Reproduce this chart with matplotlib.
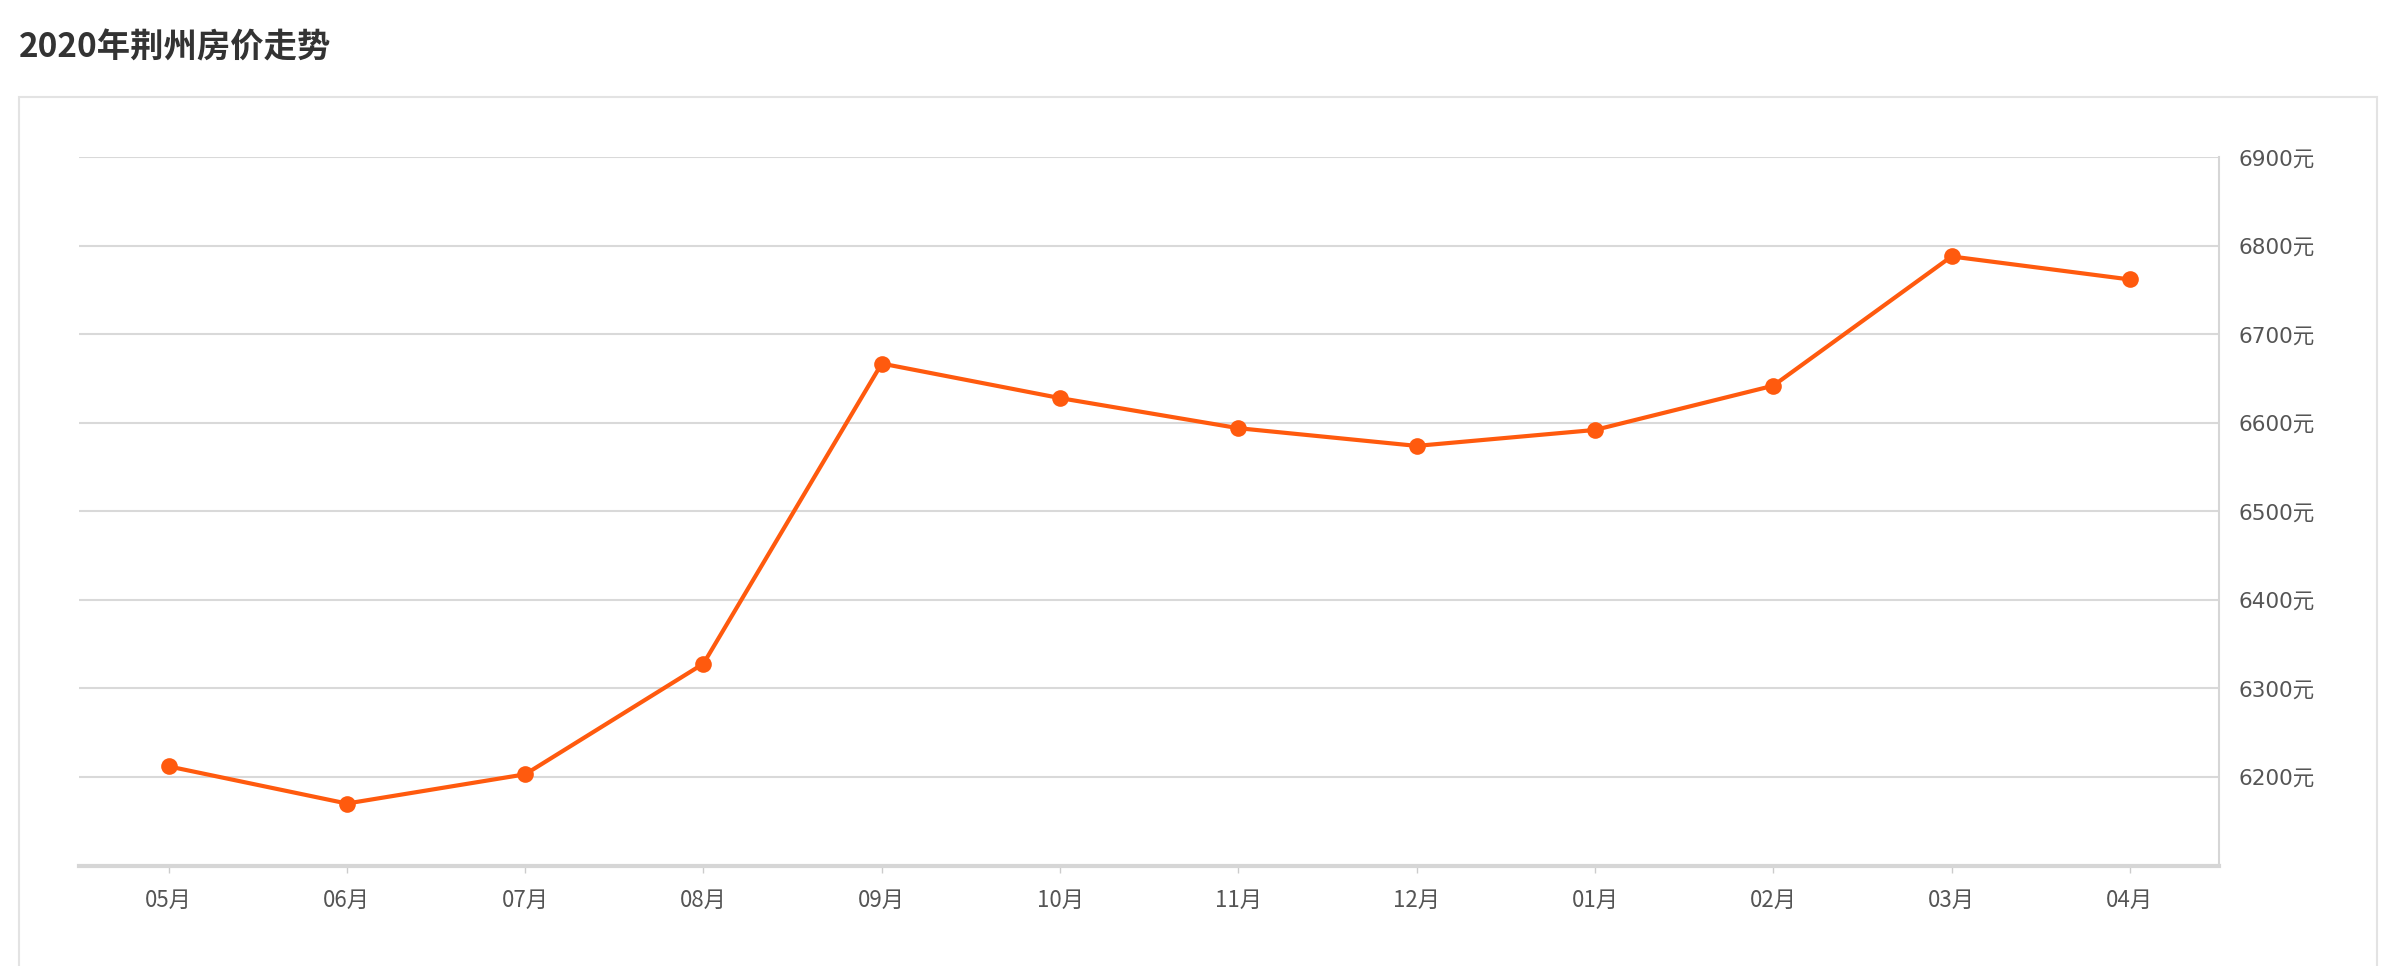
import matplotlib
matplotlib.use("Agg")
import matplotlib.pyplot as plt
from matplotlib.patches import Rectangle

plt.rcParams['font.family'] = ['Noto Sans CJK SC', 'DejaVu Sans']

title = "2020年荆州房价走势"
months = ["05月", "06月", "07月", "08月", "09月", "10月", "11月", "12月", "01月", "02月", "03月", "04月"]
prices = [6212, 6170, 6203, 6328, 6667, 6628, 6594, 6574, 6592, 6642, 6788, 6762]
y_ticks = [6200, 6300, 6400, 6500, 6600, 6700, 6800, 6900]
y_labels = [f"{v}元" for v in y_ticks]

W, H = 2394, 966
fig = plt.figure(figsize=(W / 100, H / 100), dpi=100)
fig.patch.set_facecolor("white")

# outer panel box
fig.patches.append(Rectangle((19 / W, -0.05), (2377 - 19) / W, 1.05 - 97 / H,
                             transform=fig.transFigure, fill=False,
                             edgecolor="#e3e3e3", linewidth=1.5))

fig.text(19 / W, 1 - 48 / H, title, fontsize=24, fontweight="bold",
         color="#333333", va="center", ha="left")

left, right, top, bottom = 79.4, 2219, 157.3, 865.5
ax = fig.add_axes([left / W, 1 - bottom / H, (right - left) / W, (bottom - top) / H])

x = list(range(len(months)))
ax.plot(x, prices, color="#ff5a0e", linewidth=3, marker="o", markersize=12,
        markeredgewidth=0, zorder=3, clip_on=False)

ax.set_xlim(-0.5, len(months) - 0.5)
ax.set_ylim(6100, 6900)
ax.set_xticks(x)
ax.set_xticklabels(months)
ax.set_yticks(y_ticks)
ax.set_yticklabels(y_labels, family=['DejaVu Sans', 'Noto Sans CJK SC'])

ax.yaxis.tick_right()
ax.grid(axis="y", color="#d9d9d9", linewidth=1.5, zorder=0)
ax.set_axisbelow(True)

for s in ["left", "top"]:
    ax.spines[s].set_visible(False)
ax.spines["right"].set_color("#d6d6d6")
ax.spines["right"].set_linewidth(1.5)
ax.spines["bottom"].set_color("#d6d6d6")
ax.spines["bottom"].set_linewidth(3)

ax.tick_params(axis="y", length=0, pad=14, labelsize=15.5, labelcolor="#555555")
ax.tick_params(axis="x", length=5, width=1, color="#cccccc", pad=12,
               labelsize=16, labelcolor="#555555")

fig.savefig("out.png", dpi=100, facecolor="white")
